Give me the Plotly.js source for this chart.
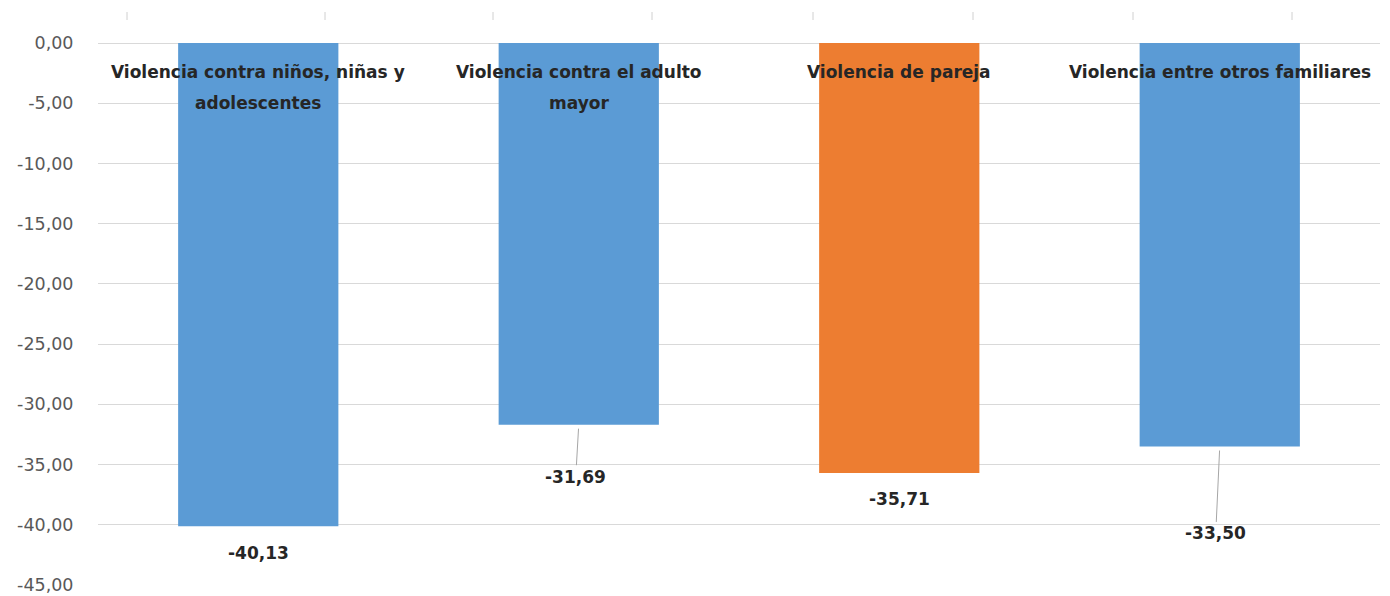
<!DOCTYPE html>
<html>
<head>
<meta charset="utf-8">
<script src="https://cdn.plot.ly/plotly-3.0.1.min.js"></script>
<style>
html,body{margin:0;padding:0;background:#fff;}
#chart{width:1390px;height:596px;}
</style>
</head>
<body>
<div id="chart"></div>
<script>
// Data
const categories = [
  "Violencia contra niños, niñas y<br>adolescentes",
  "Violencia contra el adulto<br>mayor",
  "Violencia de pareja",
  "Violencia entre otros familiares"
];
const values = [-40.13, -31.69, -35.71, -33.50];
const valueLabels = ["-40,13", "-31,69", "-35,71", "-33,50"];
const barColors = ["#5B9BD5", "#5B9BD5", "#ED7D31", "#5B9BD5"];
const tickValues = [0, -5, -10, -15, -20, -25, -30, -35, -40, -45];
const tickLabels = ["0,00", "-5,00", "-10,00", "-15,00", "-20,00", "-25,00", "-30,00", "-35,00", "-40,00", "-45,00"];

// Styling (label offsets in px, leader-line visibility)
const labelOffsetX = [0, -3, 0, -4];
const labelOffsetY = [27, 52, 26, 87];
const showLeader = [false, true, false, true];

const FONT = "'DejaVu Sans', Verdana, sans-serif";

const trace = {
  type: "bar",
  x: categories,
  y: values,
  marker: {color: barColors, line: {width: 0}},
  hoverinfo: "skip"
};

const annotations = [];
// category labels (split lines with Excel-like spacing)
categories.forEach((c, i) => {
  c.split("<br>").forEach((line, j) => {
    annotations.push({
      x: c, y: 0, xref: "x", yref: "y",
      text: line, showarrow: false,
      yanchor: "middle", yshift: -29 - 31 * j,
      font: {family: FONT, size: 17, color: "#262626", weight: "bold"}
    });
  });
});
// value labels with leader lines
values.forEach((v, i) => {
  annotations.push({
    x: categories[i], y: v, xref: "x", yref: "y",
    text: valueLabels[i],
    showarrow: true, arrowhead: 0, arrowwidth: 1,
    arrowcolor: showLeader[i] ? "#a6a6a6" : "rgba(0,0,0,0)",
    standoff: 4,
    ax: labelOffsetX[i], ay: labelOffsetY[i],
    font: {family: FONT, size: 17, color: "#262626", weight: "bold"}
  });
});

// faint top tick remnants
const topTicks = [127, 325, 493, 652, 813, 973, 1133, 1292];
const shapes = topTicks.map(px => ({
  type: "line", xref: "paper", yref: "paper",
  x0: (px - 98) / 1282, x1: (px - 98) / 1282,
  y0: 1 + 23 / 542, y1: 1 + 31 / 542,
  line: {color: "#d0d0d0", width: 1}
}));

const layout = {
  width: 1390, height: 596,
  margin: {l: 98, r: 10, t: 43, b: 11, pad: 0},
  paper_bgcolor: "#fff", plot_bgcolor: "#fff",
  separators: ",.",
  showlegend: false,
  bargap: 0.5,
  font: {family: FONT},
  xaxis: {
    type: "category", visible: true, showticklabels: false,
    showgrid: false, zeroline: false, showline: false, ticks: "",
    range: [-0.5, 3.5], fixedrange: true
  },
  yaxis: {
    range: [-45, 0], tickmode: "array", tickvals: tickValues, ticktext: tickLabels,
    showgrid: true, gridcolor: "#d9d9d9", gridwidth: 1,
    zeroline: true, zerolinecolor: "#d9d9d9", zerolinewidth: 1,
    showline: false, ticks: "outside", ticklen: 20, tickcolor: "rgba(0,0,0,0)",
    tickfont: {family: FONT, size: 17.5, color: "#595959"},
    fixedrange: true
  },
  annotations: annotations,
  shapes: shapes
};

Plotly.newPlot("chart", [trace], layout, {displayModeBar: false, staticPlot: true});
</script>
</body>
</html>
